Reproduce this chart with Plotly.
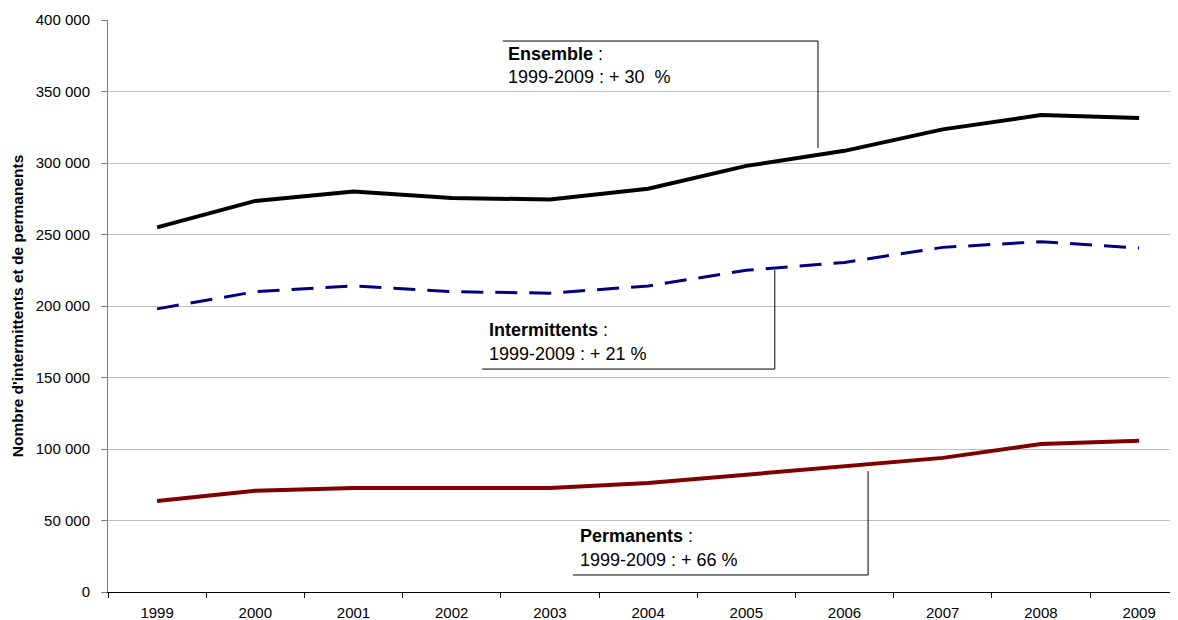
import plotly.graph_objects as go

years = ["1999", "2000", "2001", "2002", "2003", "2004", "2005", "2006", "2007", "2008", "2009"]
ensemble = [255000, 273500, 280000, 275500, 274500, 282000, 298000, 308500, 323500, 333500, 331500]
intermittents = [198000, 210000, 214000, 210000, 209000, 214000, 225000, 230500, 241000, 245000, 240500]
permanents = [63600, 70800, 72800, 72500, 72700, 76200, 82000, 88000, 93800, 103500, 105800]

y_ticks = [0, 50000, 100000, 150000, 200000, 250000, 300000, 350000, 400000]
y_ticktext = ["0", "50 000", "100 000", "150 000", "200 000", "250 000", "300 000", "350 000", "400 000"]

FONT = "Liberation Sans, Arial, sans-serif"

fig = go.Figure()
fig.add_trace(go.Scatter(x=years, y=ensemble, mode="lines", name="Ensemble",
                         line=dict(color="#000000", width=4)))
fig.add_trace(go.Scatter(x=years, y=intermittents, mode="lines", name="Intermittents",
                         line=dict(color="#000080", width=3, dash="22px,12px")))
fig.add_trace(go.Scatter(x=years, y=permanents, mode="lines", name="Permanents",
                         line=dict(color="#800000", width=4)))

# callout lines
line_style = dict(color="#000000", width=1)
callouts = [
    # (x_h0, x_v, y_h, y_v_end)
    (3.52, 6.73, 385300, 310500),
    (3.31, 6.29, 155900, 225200),
    (4.235, 7.24, 11900, 84600),
]
for xh0, xv, yh, yv in callouts:
    fig.add_shape(type="line", x0=xh0, x1=xv, y0=yh, y1=yh, xref="x", yref="y", line=line_style)
    fig.add_shape(type="line", x0=xv, x1=xv, y0=yh, y1=yv, xref="x", yref="y", line=line_style)

labels = [
    (3.55, 376200, 360100, "<b>Ensemble</b> :", "1999-2009 : + 30  %"),
    (3.36, 183200, 166400, "<b>Intermittents</b> :", "1999-2009 : + 21 %"),
    (4.29, 39200, 22400, "<b>Permanents</b> :", "1999-2009 : + 66 %"),
]
for x, y1, y2, t1, t2 in labels:
    for yy, tt in ((y1, t1), (y2, t2)):
        fig.add_annotation(x=x, y=yy, xref="x", yref="y", text=tt, showarrow=False,
                           xanchor="left", yanchor="middle",
                           font=dict(family=FONT, size=18, color="#000000"))

# the page body adds an 8px offset, so the figure is sized to compensate
fig.update_layout(
    width=1170, height=612,
    margin=dict(l=100, r=0, t=12, b=28),
    paper_bgcolor="white", plot_bgcolor="white",
    showlegend=False,
    font=dict(family=FONT, size=15, color="#000000"),
)
fig.update_xaxes(
    type="category", range=[-0.5, 10.396],
    tickson="boundaries", ticks="outside", ticklen=5, tickcolor="#000000",
    showline=True, linecolor="#000000", linewidth=1,
    showgrid=False, zeroline=False,
    tickfont=dict(family=FONT, size=15),
    ticklabelstandoff=7,
)
fig.update_yaxes(
    range=[0, 400000], tickvals=y_ticks, ticktext=y_ticktext,
    ticks="outside", ticklen=6, tickcolor="#808080",
    showline=True, linecolor="#808080", linewidth=1,
    showgrid=True, gridcolor="#bfbfbf", gridwidth=1, zeroline=False,
    tickfont=dict(family=FONT, size=15),
    ticklabelstandoff=8,
    title=dict(text="<b>Nombre d'intermittents et de permanents</b>",
               font=dict(family=FONT, size=15.5), standoff=8),
)

fig.write_html("out.html")
